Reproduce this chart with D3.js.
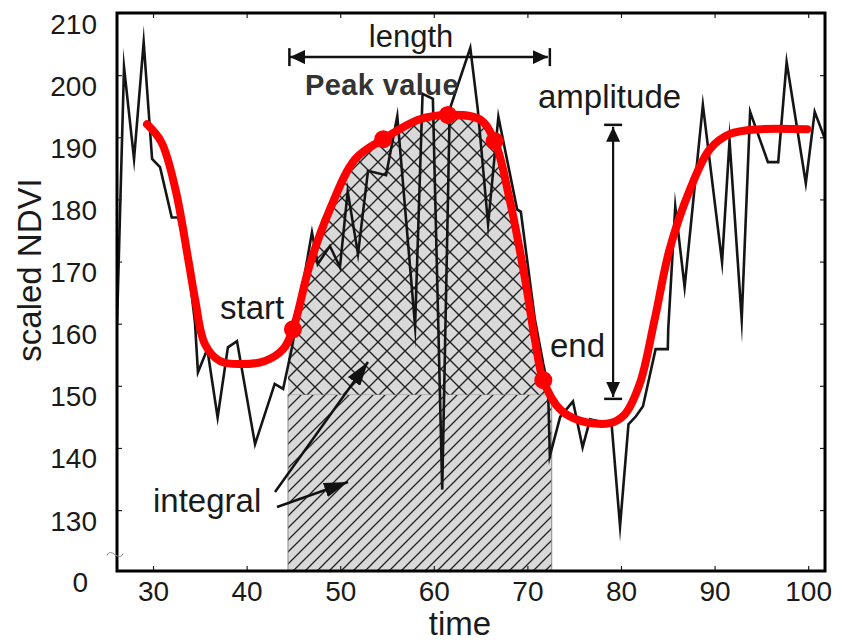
<!DOCTYPE html>
<html>
<head>
<meta charset="utf-8">
<script src="https://cdn.jsdelivr.net/npm/d3@7"></script>
<style>
  html, body { margin: 0; padding: 0; background: #fff; }
  svg text { font-family: "Liberation Sans", Arial, sans-serif; }
</style>
</head>
<body>
<div id="chart"></div>
<script>
// Raw (noisy) NDVI series
const rawTime = [26.15, 26.9, 27.97, 29.0, 29.9, 30.75, 32.0, 32.7, 33.7, 34.48, 34.8, 35.8, 36.9, 38.0, 38.97,
  40.9, 43.0, 43.9, 44.85, 46.98, 47.6, 48.9, 49.97, 50.8, 51.9, 52.97, 54.9, 56.1, 58.0, 58.8, 59.9, 60.9,
  61.7, 63.9, 64.7, 65.8, 66.9, 68.9, 69.3, 70.8, 71.7, 72.2, 72.4, 73.5, 74.87, 75.9, 76.7, 79.0, 79.9,
  80.8, 81.6, 82.35, 83.7, 85.0, 85.05, 85.8, 86.8, 88.75, 90.8, 91.6, 92.9, 93.8, 95.7, 96.8, 97.7,
  99.75, 100.7, 101.8];
const rawNdvi = [159.9, 201.3, 186.5, 205.3, 186.5, 185.2, 177.1, 177.1, 170.1, 160.2, 152.2, 155.9, 144.9, 156.2, 157.2,
  140.6, 150.3, 149.5, 156.2, 174.7, 169.6, 172.5, 169.1, 181.3, 171.2, 184.6, 183.9, 193.4, 159.6, 197.0, 196.2, 133.3,
  194.5, 204.4, 194.5, 176.0, 193.3, 178.4, 178.0, 160.7, 153.5, 150.0, 138.7, 145.0, 147.5, 140.1, 144.6, 143.8, 127.4,
  143.8, 145.1, 146.7, 155.9, 155.9, 159.1, 178.9, 165.9, 195.2, 169.9, 189.5, 160.7, 194.1, 186.0, 186.0, 202.1,
  182.6, 194.1, 189.7];

// Fitted (smoothed) curve
const fitTime = [29.35, 30.9, 32.4, 33.8, 34.5, 35.55, 37.15, 39.3, 41.96, 43.9, 44.95, 46.77, 48.9, 51.6, 54.6,
  58.5, 61.5, 64.9, 66.5, 68.1, 69.75, 70.8, 71.7, 73.5, 75.6, 78.8, 80.4, 82.0, 83.6, 85.2, 87.4, 89.5,
  91.6, 94.85, 99.9];
const fitNdvi = [192.1, 189.2, 181.6, 170.0, 163.9, 156.7, 154.0, 153.5, 154.0, 155.9, 159.1, 169.6, 178.4, 186.5, 189.7,
  192.9, 193.6, 192.9, 189.4, 180.0, 167.2, 157.5, 150.9, 146.2, 144.4, 144.0, 145.4, 150.3, 160.7, 172.0, 181.7, 188.1,
  190.5, 191.3, 191.3];

// Phenology markers on the fitted curve: start, two shoulders, peak, end
const markerTime = [44.95, 54.6, 61.5, 66.5, 71.7];
const markerNdvi = [159.1, 189.7, 193.6, 189.4, 150.9];

// Season limits and amplitude arrow
const seasonStart = 44.42;
const seasonEnd = 72.6;
const baseLevel = 148.6;
const amplitudeTime = 79.16;
const amplitudeRange = [147.9, 192.0];
const lengthLevel = 202.9;

// Axes
const xTicks = [30, 40, 50, 60, 70, 80, 90, 100];
const yTicks = [130, 140, 150, 160, 170, 180, 190, 200, 210];
const yBreak = 120.2;
const yBreakLabel = '0';

const width = 843;
const height = 644;

const rawPts = rawTime.map((t, i) => [t, rawNdvi[i]]);
const fitPts = fitTime.map((t, i) => [t, fitNdvi[i]]);
const markerPts = markerTime.map((t, i) => [t, markerNdvi[i]]);

const x = d3.scaleLinear().domain([26.15, 101.8]).range([117, 825]);
const y = d3.scaleLinear().domain([yBreak, 210]).range([571, 13]);

const svg = d3.select('#chart').append('svg')
  .attr('width', width)
  .attr('height', height);

const defs = svg.append('defs');

// Hatch patterns
const diag = defs.append('pattern')
  .attr('id', 'diag')
  .attr('patternUnits', 'userSpaceOnUse')
  .attr('width', 12).attr('height', 12);
diag.append('rect').attr('width', 12).attr('height', 12).attr('fill', '#d9d9d9');
diag.append('path')
  .attr('d', 'M-3,3 L3,-3 M0,12 L12,0 M9,15 L15,9')
  .attr('stroke', '#222').attr('stroke-width', 1.3);

const cross = defs.append('pattern')
  .attr('id', 'cross')
  .attr('patternUnits', 'userSpaceOnUse')
  .attr('width', 18).attr('height', 18);
cross.append('rect').attr('width', 18).attr('height', 18).attr('fill', '#d9d9d9');
cross.append('path')
  .attr('d', 'M0,0 L18,18 M18,0 L0,18')
  .attr('stroke', '#222').attr('stroke-width', 1.4);

const fitCurve = d3.curveCatmullRom.alpha(0.5);

const underFit = d3.area()
  .x(d => x(d[0]))
  .y0(y(yBreak))
  .y1(d => y(d[1]))
  .curve(fitCurve);

defs.append('clipPath').attr('id', 'under-fit')
  .append('path').attr('d', underFit(fitPts));

defs.append('clipPath').attr('id', 'plot-area')
  .append('rect')
  .attr('x', x.range()[0]).attr('y', y.range()[1])
  .attr('width', x.range()[1] - x.range()[0])
  .attr('height', y.range()[0] - y.range()[1]);

// Arrow heads
const head = (id, len, w) => {
  defs.append('marker')
    .attr('id', id)
    .attr('markerUnits', 'userSpaceOnUse')
    .attr('markerWidth', len).attr('markerHeight', w)
    .attr('refX', len).attr('refY', w / 2)
    .attr('orient', 'auto-start-reverse')
    .append('path')
    .attr('d', `M0,0 L${len},${w / 2} L0,${w} Z`)
    .attr('fill', '#111');
};
head('head-small', 15, 14);
head('head-big', 24, 15);

// Integral: lower rectangle (diagonal hatching)
svg.append('rect')
  .attr('x', x(seasonStart))
  .attr('y', y(baseLevel))
  .attr('width', x(seasonEnd) - x(seasonStart))
  .attr('height', y(yBreak) - y(baseLevel))
  .attr('fill', 'url(#diag)')
  .attr('stroke', '#8a8a8a')
  .attr('stroke-width', 1);

// Integral: part above the base, under the fitted curve (cross hatching)
svg.append('rect')
  .attr('x', x(seasonStart))
  .attr('y', y(210))
  .attr('width', x(seasonEnd) - x(seasonStart))
  .attr('height', y(baseLevel) - y(210))
  .attr('fill', 'url(#cross)')
  .attr('clip-path', 'url(#under-fit)');

const plot = svg.append('g').attr('clip-path', 'url(#plot-area)');

// Raw series
plot.append('path')
  .datum(rawPts)
  .attr('fill', 'none')
  .attr('stroke', '#151515')
  .attr('stroke-width', 2.6)
  .attr('stroke-linejoin', 'miter')
  .attr('stroke-miterlimit', 20)
  .attr('d', d3.line().x(d => x(d[0])).y(d => y(d[1])));

// Fitted curve
plot.append('path')
  .datum(fitPts)
  .attr('fill', 'none')
  .attr('stroke', '#ff0000')
  .attr('stroke-width', 8)
  .attr('stroke-linecap', 'round')
  .attr('d', d3.line().x(d => x(d[0])).y(d => y(d[1])).curve(fitCurve));

plot.selectAll('circle.marker')
  .data(markerPts)
  .join('circle')
  .attr('class', 'marker')
  .attr('cx', d => x(d[0]))
  .attr('cy', d => y(d[1]))
  .attr('r', 9)
  .attr('fill', '#ff0000');

// Axes (ticks point inward, labels only on bottom/left)
const fontTick = 28;
const xAxis = svg.append('g')
  .attr('transform', `translate(0,${y(yBreak)})`)
  .call(d3.axisBottom(x).tickValues(xTicks).tickSize(-5).tickPadding(10));
const yAxis = svg.append('g')
  .attr('transform', `translate(${x.range()[0]},0)`)
  .call(d3.axisLeft(y).tickValues([yBreak, ...yTicks]).tickSize(-5).tickPadding(20)
    .tickFormat(d => d === yBreak ? yBreakLabel : d));
svg.append('g')
  .attr('transform', `translate(0,${y(210)})`)
  .call(d3.axisTop(x).tickValues(xTicks).tickSize(-5).tickFormat(''));
svg.append('g')
  .attr('transform', `translate(${x.range()[1]},0)`)
  .call(d3.axisRight(y).tickValues(yTicks).tickSize(-5).tickFormat(''));

svg.selectAll('.domain').remove();
svg.selectAll('.tick line').attr('stroke', '#222').attr('stroke-width', 1.2);
svg.selectAll('.tick text')
  .attr('font-size', fontTick)
  .attr('font-family', '"Liberation Sans", Arial, sans-serif')
  .attr('fill', '#1a1a1a');
yAxis.selectAll('.tick text').attr('dy', 20);
yAxis.selectAll('.tick text').filter(d => d === yBreak).attr('x', -29);
xAxis.selectAll('.tick text').attr('dy', '0.71em');

// Frame
svg.append('rect')
  .attr('x', x.range()[0]).attr('y', y.range()[1])
  .attr('width', x.range()[1] - x.range()[0])
  .attr('height', y.range()[0] - y.range()[1])
  .attr('fill', 'none')
  .attr('stroke', '#000')
  .attr('stroke-width', 3);

// Axis break mark
svg.append('path')
  .attr('d', `M107,${y(123) + 2} C111,${y(123) - 8} 119,${y(123) + 10} 123,${y(123)}`)
  .attr('fill', 'none')
  .attr('stroke', '#888')
  .attr('stroke-width', 1);

// Axis titles
svg.append('text')
  .attr('transform', 'translate(41,270) rotate(-90)')
  .attr('text-anchor', 'middle')
  .attr('font-size', 33)
  .attr('fill', '#1a1a1a')
  .text('scaled NDVI');

svg.append('text')
  .attr('x', 460).attr('y', 635)
  .attr('text-anchor', 'middle')
  .attr('font-size', 33)
  .attr('fill', '#1a1a1a')
  .text('time');

// Length arrow
const ann = svg.append('g').attr('fill', '#1a1a1a');
ann.append('line')
  .attr('x1', x(seasonStart) + 2).attr('x2', x(72.4) - 2)
  .attr('y1', y(lengthLevel)).attr('y2', y(lengthLevel))
  .attr('stroke', '#111').attr('stroke-width', 2.5)
  .attr('marker-start', 'url(#head-small)')
  .attr('marker-end', 'url(#head-small)');
[seasonStart + 0.15, 72.4].forEach(t => {
  ann.append('line')
    .attr('x1', x(t)).attr('x2', x(t))
    .attr('y1', y(lengthLevel) - 9).attr('y2', y(lengthLevel) + 9)
    .attr('stroke', '#111').attr('stroke-width', 2.5);
});
ann.append('text')
  .attr('x', 411).attr('y', 47)
  .attr('text-anchor', 'middle')
  .attr('font-size', 31)
  .text('length');

ann.append('text')
  .attr('x', 305).attr('y', 95)
  .attr('font-size', 29)
  .attr('font-weight', 'bold')
  .attr('letter-spacing', 0.4)
  .attr('fill', '#333')
  .text('Peak value');

// Amplitude arrow
ann.append('line')
  .attr('x1', x(amplitudeTime)).attr('x2', x(amplitudeTime))
  .attr('y1', y(amplitudeRange[1]) + 2).attr('y2', y(amplitudeRange[0]) - 2)
  .attr('stroke', '#111').attr('stroke-width', 2.2)
  .attr('marker-start', 'url(#head-small)')
  .attr('marker-end', 'url(#head-small)');
amplitudeRange.forEach(v => {
  ann.append('line')
    .attr('x1', x(amplitudeTime) - 9).attr('x2', x(amplitudeTime) + 9)
    .attr('y1', y(v)).attr('y2', y(v))
    .attr('stroke', '#111').attr('stroke-width', 2.5);
});
ann.append('text')
  .attr('x', 538).attr('y', 108)
  .attr('font-size', 33)
  .text('amplitude');

ann.append('text')
  .attr('x', 220).attr('y', 319)
  .attr('font-size', 33)
  .text('start');

ann.append('text')
  .attr('x', 550).attr('y', 357)
  .attr('font-size', 33)
  .text('end');

ann.append('text')
  .attr('x', 153).attr('y', 512)
  .attr('font-size', 33)
  .text('integral');

// Integral arrows
[[275, 492, 368, 362], [277, 507, 348, 482]].forEach(([x1, y1, x2, y2]) => {
  ann.append('line')
    .attr('x1', x1).attr('y1', y1)
    .attr('x2', x2).attr('y2', y2)
    .attr('stroke', '#111').attr('stroke-width', 2.5)
    .attr('marker-end', 'url(#head-big)');
});
</script>
</body>
</html>
